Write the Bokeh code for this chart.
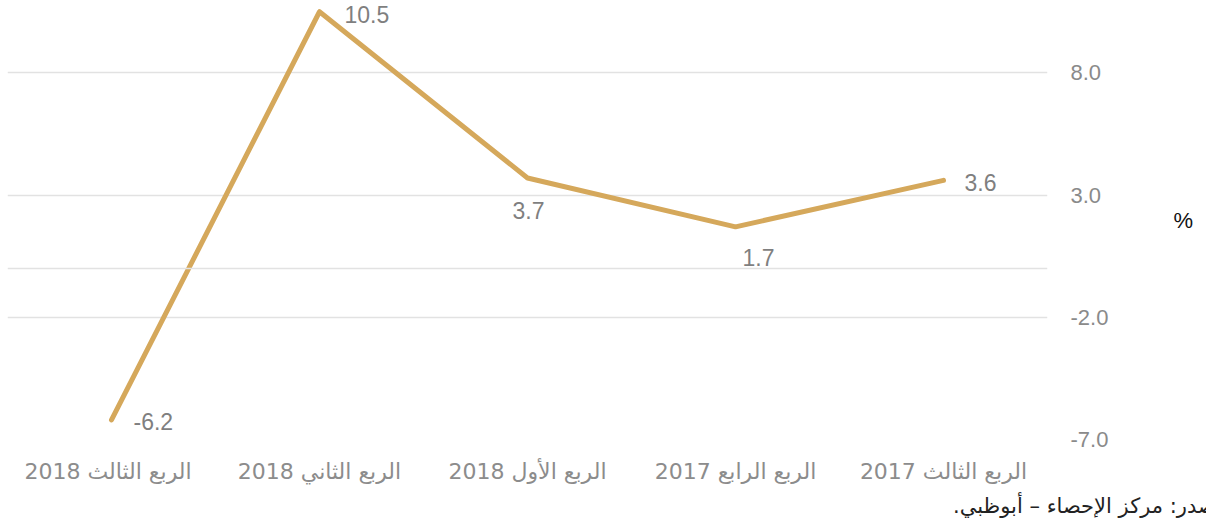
from bokeh.plotting import figure
from bokeh.models import FactorRange, Range1d, FixedTicker, Span, Title, ColumnDataSource, CustomJSTickFormatter
from bokeh.core.properties import value
from bokeh.embed import file_html
from bokeh.resources import INLINE

# Data (chronological order; chart is drawn right-to-left)
categories = ["الربع الثالث 2017", "الربع الرابع 2017", "الربع الأول 2018", "الربع الثاني 2018", "الربع الثالث  2018"]
values = [3.6, 1.7, 3.7, 10.5, -6.2]
value_labels = ["3.6", "1.7", "3.7", "10.5", "-6.2"]
y_ticks = [8.0, 3.0, -2.0, -7.0]
source_note = "المصدر: مركز الإحصاء – أبوظبي.\u200f"
unit_label = "%"

W, H = 1206, 522
p = figure(width=W, height=H, output_backend="svg", toolbar_location=None,
           x_range=FactorRange(factors=list(reversed(categories)), range_padding=0),
           y_range=Range1d(-7.0, 10.96),
           min_border_left=7, min_border_top=0, min_border_right=159, min_border_bottom=79,
           y_axis_location="right")
p.outline_line_color = None
p.background_fill_color = "white"
p.border_fill_color = "white"

# grid
p.xgrid.grid_line_color = None
p.ygrid.grid_line_color = "#e2e2e2"
p.ygrid.grid_line_width = 1.5
p.ygrid.ticker = FixedTicker(ticks=y_ticks)
p.add_layout(Span(location=0, dimension="width", line_color="#e2e2e2", line_width=1.5))

# y axis (right)
ya = p.yaxis[0]
ya.ticker = FixedTicker(ticks=y_ticks)
ya.formatter = CustomJSTickFormatter(code="return tick.toFixed(1);")
ya.axis_line_color = None
ya.major_tick_line_color = None
ya.minor_tick_line_color = None
ya.major_label_text_color = "#8a8a8a"
ya.major_label_text_font = "Liberation Sans"
ya.major_label_text_font_size = "22px"
ya.major_label_standoff = 17
ya.axis_label = unit_label
ya.axis_label_text_font = "Liberation Sans"
ya.axis_label_text_font_size = "22px"
ya.axis_label_text_font_style = "normal"
ya.axis_label_text_color = "#111111"
ya.axis_label_standoff = 62
if hasattr(ya, "axis_label_orientation"):
    ya.axis_label_orientation = "horizontal"

# x axis
xa = p.xaxis[0]
xa.axis_line_color = None
xa.major_tick_line_color = None
xa.minor_tick_line_color = None
xa.major_label_text_color = "#8c8c8c"
xa.major_label_text_font = "DejaVu Sans"
xa.major_label_text_font_size = "22px"
xa.major_label_standoff = 13

src = ColumnDataSource(dict(x=categories, y=values, t=value_labels))
p.line("x", "y", source=src, line_color="#D5A85B", line_width=5, line_cap="round", line_join="round")

# data labels (placement per point)
placements = {
    0: ("center_left", 21, 2),
    1: ("center", 23, 31),
    2: ("center", 1, 33),
    3: ("center_left", 25, 3),
    4: ("center_left", 22, 2),
}
for i, (anchor, dx, dy) in placements.items():
    p.text(x=[categories[i]], y=[values[i]], text=[value_labels[i]],
           anchor=anchor, x_offset=dx, y_offset=dy,
           text_color="#7f7f7f", text_font=value("Liberation Sans"), text_font_size="23px")

# source note (cut off at the right edge as in the original)
p.add_layout(Title(text=source_note, align="right", offset=-193,
                   text_color="#222222", text_font="DejaVu Sans", text_font_size="21px",
                   text_font_style="normal"), "below")

open("out.html", "w").write(file_html(p, INLINE))
